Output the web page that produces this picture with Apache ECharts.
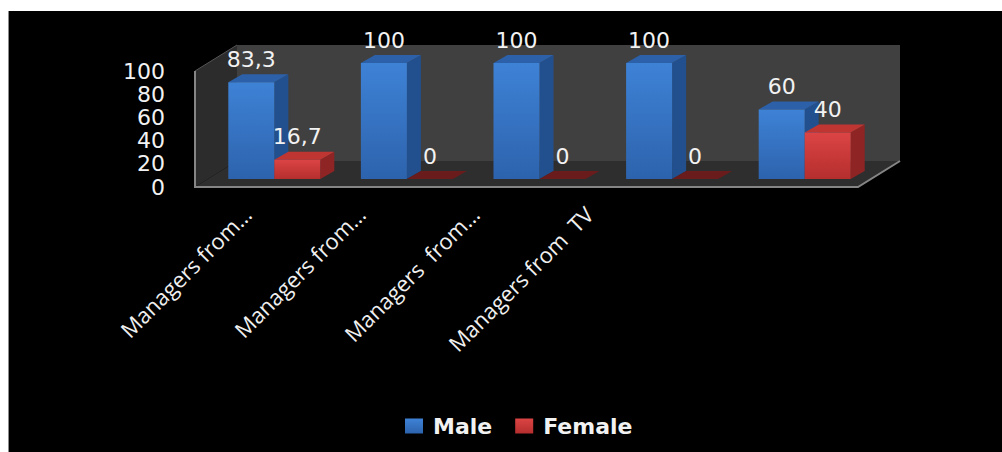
<!DOCTYPE html>
<html>
<head>
<meta charset="utf-8">
<style>
  html, body { margin: 0; padding: 0; background: #ffffff; }
  #chart { width: 1002px; height: 452px; }
</style>
<script src="https://cdn.jsdelivr.net/npm/echarts@6/dist/echarts.min.js"></script>
</head>
<body>
<div id="chart"></div>
<script>
// Gender split of managers by media sector (percent)
const categories = ['Managers from…', 'Managers from…', 'Managers\u00a0 from…', 'Managers from\u00a0 TV', ''];
const maleValues = [83.3, 100, 100, 100, 60];
const femaleValues = [16.7, 0, 0, 0, 40];
const seriesNames = ['Male', 'Female'];

// room geometry: front plane grid, bars sit a little deeper, back wall at full depth
const FRONT = { left: 195, top: 71, width: 663, height: 116 };
const BAR_SHIFT = [13, -8];      // bar front face relative to front plane
const ROOM_DEPTH = [42, -26];    // back wall relative to front plane
const BAR_DEPTH = [14, -8];      // thickness of each bar
const BAR_W = 46;

const palette = {
  Male:   { front: ['#3e82d6', '#2d63ad'], side: '#22508f', top: '#2c60a8', flat: '#2a4f86' },
  Female: { front: ['#dc4444', '#b52e2e'], side: '#8e2424', top: '#bf3532', flat: '#6a1c1c' }
};

function fmt(v) { return String(v).replace('.', ','); }

function capRenderer(name) {
  return function (params, api) {
    const idx = api.value(0);
    const v = api.value(1);
    const pt = api.coord([idx, v]);
    const base = api.coord([idx, 0])[1];
    const left = name === 'Male' ? pt[0] - BAR_W : pt[0];
    const right = left + BAR_W;
    const top = pt[1];
    const dx = BAR_DEPTH[0], dy = BAR_DEPTH[1];
    const c = palette[name];
    const children = [];
    if (v > 0) {
      children.push({
        type: 'polygon',
        shape: { points: [[right, top], [right + dx, top + dy], [right + dx, base + dy], [right, base]] },
        style: { fill: c.side }
      });
    }
    children.push({
      type: 'polygon',
      shape: { points: [[left, top], [left + dx, top + dy], [right + dx, top + dy], [right, top]] },
      style: { fill: v > 0 ? c.top : c.flat }
    });
    return { type: 'group', children: children };
  };
}

function roomRenderer(params, api) {
  const cs = params.coordSys;
  const x = cs.x, y = cs.y, w = cs.width, h = cs.height;
  const dx = ROOM_DEPTH[0], dy = ROOM_DEPTH[1];
  return {
    type: 'group',
    children: [
      { type: 'rect', shape: { x: x + dx, y: y + dy, width: w, height: h }, style: { fill: '#404040' } },
      { type: 'polygon', shape: { points: [[x, y], [x + dx, y + dy], [x + dx, y + h + dy], [x, y + h]] }, style: { fill: '#2c2c2c' } },
      { type: 'polygon', shape: { points: [[x, y + h], [x + dx, y + h + dy], [x + w + dx, y + h + dy], [x + w, y + h]] }, style: { fill: '#2e2e2e' } },
      { type: 'polyline', shape: { points: [[x, y], [x + dx, y + dy]] }, style: { stroke: '#555555', lineWidth: 1, fill: null } },
      { type: 'polyline', shape: { points: [[x, y], [x, y + h], [x + w, y + h], [x + w + dx, y + h + dy]] }, style: { stroke: '#858585', lineWidth: 2, fill: null } }
    ]
  };
}

function frontGradient(cols) {
  return new echarts.graphic.LinearGradient(0, 0, 0, 1, [
    { offset: 0, color: cols[0] }, { offset: 1, color: cols[1] }
  ]);
}

const chart = echarts.init(document.getElementById('chart'), null, { renderer: 'svg' });

const option = {
  backgroundColor: '#ffffff',
  animation: false,
  graphic: [
    { type: 'rect', z: 0, shape: { x: 9, y: 11, width: 993, height: 441 }, style: { fill: '#000000' } },
    { type: 'line', z: 0, shape: { x1: 8.5, y1: 11, x2: 8.5, y2: 452 }, style: { stroke: '#8c8c8c', lineWidth: 1 } }
  ],
  grid: [
    { left: FRONT.left, top: FRONT.top, width: FRONT.width, height: FRONT.height },
    { left: FRONT.left + BAR_SHIFT[0], top: FRONT.top + BAR_SHIFT[1], width: FRONT.width, height: FRONT.height },
    { left: 190, top: FRONT.top, width: 570, height: FRONT.height }
  ],
  xAxis: [
    { type: 'category', gridIndex: 0, data: categories, axisLine: { show: false }, axisTick: { show: false }, axisLabel: { show: false } },
    { type: 'category', gridIndex: 1, data: categories, axisLine: { show: false }, axisTick: { show: false }, axisLabel: { show: false } },
    {
      type: 'category', gridIndex: 2, data: categories,
      axisLine: { show: false }, axisTick: { show: false },
      axisLabel: {
        interval: 0, rotate: 45, margin: 23,
        color: '#f0f0f0', fontFamily: 'Open Sans', fontSize: 22
      }
    }
  ],
  yAxis: [
    {
      type: 'value', gridIndex: 0, min: 0, max: 100, interval: 20,
      axisLine: { show: false }, axisTick: { show: false }, splitLine: { show: false },
      axisLabel: { margin: 30, color: '#f2f2f2', fontFamily: 'DejaVu Sans', fontSize: 22 }
    },
    {
      type: 'value', gridIndex: 1, min: 0, max: 100, interval: 20, show: false,
      splitLine: { show: false }
    },
    { type: 'value', gridIndex: 2, min: 0, max: 100, show: false, splitLine: { show: false } }
  ],
  legend: {
    data: seriesNames,
    left: 405, top: 415,
    padding: 0,
    itemWidth: 18, itemHeight: 15, itemGap: 23,
    icon: 'rect',
    textStyle: { color: '#f2f2f2', fontFamily: 'DejaVu Sans', fontWeight: 'bold', fontSize: 22, padding: [0, 0, 0, 5] }
  },
  series: [
    {
      type: 'custom', name: 'room', xAxisIndex: 0, yAxisIndex: 0, z: 1, silent: true,
      renderItem: roomRenderer, data: [[0]]
    },
    {
      type: 'bar', name: 'Male', xAxisIndex: 1, yAxisIndex: 1, z: 3,
      data: maleValues, barWidth: BAR_W, barGap: '0%',
      itemStyle: { color: frontGradient(palette.Male.front) },
      label: { show: true, position: 'top', distance: 12, color: '#f2f2f2', fontFamily: 'DejaVu Sans', fontSize: 22, formatter: p => fmt(p.value) }
    },
    {
      type: 'custom', name: 'Male', xAxisIndex: 1, yAxisIndex: 1, z: 3,
      renderItem: capRenderer('Male'),
      data: maleValues.map((v, i) => [i, v])
    },
    {
      type: 'bar', name: 'Female', xAxisIndex: 1, yAxisIndex: 1, z: 4,
      data: femaleValues, barWidth: BAR_W, barGap: '0%',
      itemStyle: { color: frontGradient(palette.Female.front) },
      label: { show: true, position: 'top', distance: 12, color: '#f2f2f2', fontFamily: 'DejaVu Sans', fontSize: 22, formatter: p => fmt(p.value) }
    },
    {
      type: 'custom', name: 'Female', xAxisIndex: 1, yAxisIndex: 1, z: 4,
      renderItem: capRenderer('Female'),
      data: femaleValues.map((v, i) => [i, v])
    }
  ]
};

chart.setOption(option);
</script>
</body>
</html>
